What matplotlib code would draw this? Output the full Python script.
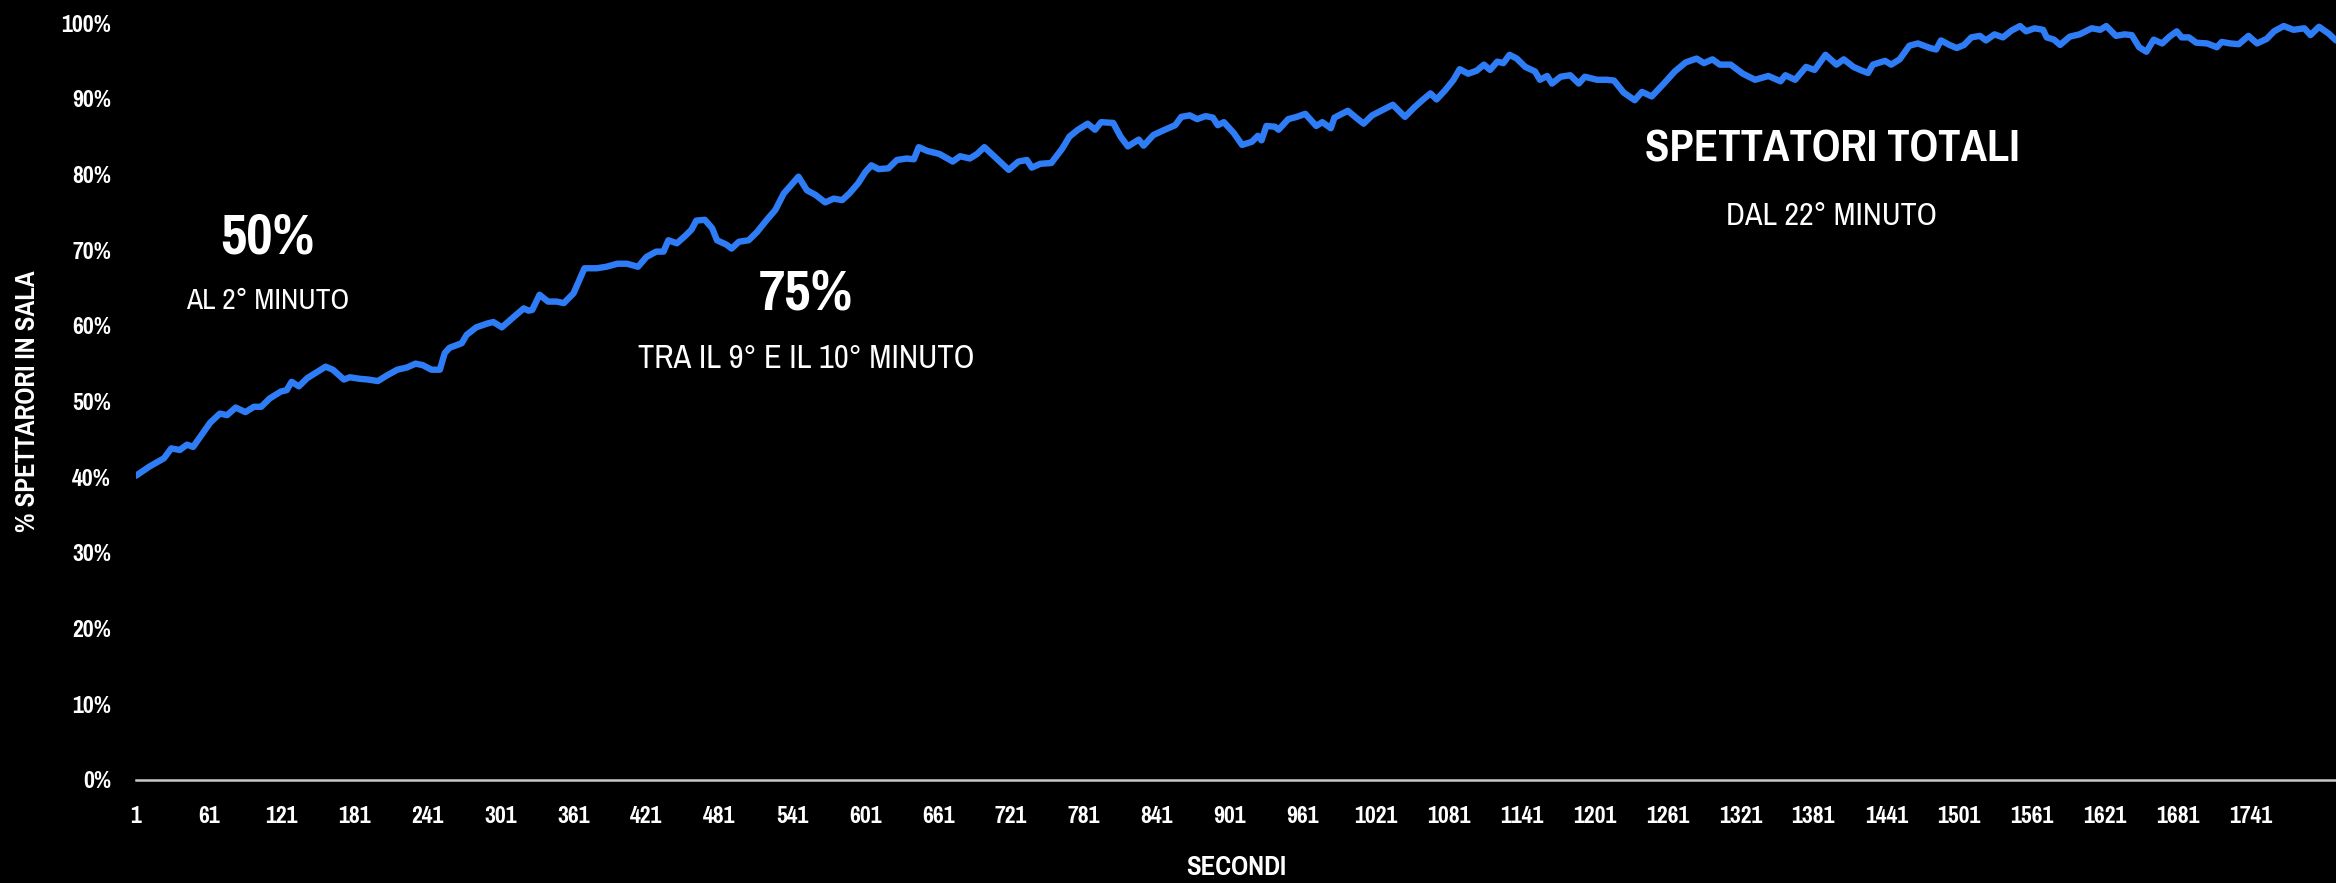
import matplotlib
matplotlib.use('Agg')
import matplotlib.pyplot as plt
from matplotlib import font_manager
from matplotlib.ticker import FuncFormatter

# font stretto, se c'e'
narrow = None
for f in font_manager.fontManager.ttflist:
    if 'Narrow' in f.name or 'Condensed' in f.name or f.stretch in ('condensed', 'semi-condensed',
                                                                      'extra-condensed'):
        if narrow is None or 'Narrow' in f.name:
            narrow = f
if narrow is not None:
    plt.rcParams['font.family'] = [narrow.name, 'DejaVu Sans']
    plt.rcParams['font.stretch'] = narrow.stretch
    scala = 1.0
else:
    plt.rcParams['font.family'] = ['DejaVu Sans']
    scala = 0.8

secondi = [1, 12, 24, 30, 37, 43, 48, 55, 62, 70, 76, 83, 91, 98, 104, 111, 120, 125, 129, 135,
           142, 150, 157, 163, 172, 177, 185, 192, 200, 207, 216, 224, 231, 237, 244, 251, 255, 259,
           269, 273, 281, 290, 295, 302, 312, 320, 324,
           327, 333, 340, 347, 353, 361, 370, 380, 388, 397, 405, 414, 421, 429, 435, 439, 446, 453,
           458, 462, 469, 475, 479, 487, 491, 497, 505, 512, 520, 527, 534, 539, 546, 553, 560, 568,
           575, 582, 588, 595, 601, 606, 612, 620, 627, 635, 641, 645, 652,
           662, 673, 679, 687, 693, 699, 709, 719, 727, 734, 738, 745, 754, 763, 769, 776, 784, 790,
           795, 805, 811, 817, 826, 830, 838, 846, 856, 861, 868, 874, 881, 887, 891, 896, 904, 911,
           919, 924, 927, 931, 938, 941, 949, 956, 963, 972, 977,
           984, 987, 998, 1004, 1011, 1018, 1029, 1035, 1045, 1053, 1060, 1066, 1071, 1078, 1085,
           1090, 1097, 1104, 1110, 1115, 1121, 1126, 1131, 1137, 1144, 1152, 1156, 1162, 1166, 1173,
           1181, 1188, 1193, 1203, 1211, 1217, 1225, 1234, 1240, 1248, 1258, 1267, 1276, 1285, 1291,
           1298, 1304, 1313,
           1323, 1333, 1344, 1354, 1358, 1366, 1375, 1382, 1391, 1400, 1406, 1414, 1421, 1426, 1430,
           1440, 1445, 1452, 1460, 1467, 1477, 1482, 1486, 1493, 1499, 1505, 1511, 1518, 1523, 1530,
           1537, 1544, 1551, 1556, 1563, 1570, 1573, 1579, 1584, 1592, 1600, 1610, 1617, 1622, 1630,
           1637,
           1643, 1649, 1655, 1661, 1668, 1674, 1680, 1684, 1690, 1696, 1705, 1713, 1717, 1724, 1731,
           1739, 1746, 1754, 1760, 1768, 1776, 1785, 1790, 1797, 1805, 1811]

spettatori = [40.2, 41.4, 42.5, 43.8, 43.6, 44.3, 44.0, 45.6, 47.2, 48.4, 48.2, 49.2, 48.6, 49.3,
              49.3, 50.4, 51.3, 51.5, 52.6, 52.0,
              53.1, 53.9, 54.6, 54.2, 52.9, 53.2, 53.0, 52.9, 52.7, 53.4, 54.2, 54.5, 55.0, 54.8,
              54.2, 54.2, 56.4, 57.1,
              57.7, 58.8, 59.8, 60.3, 60.5, 59.8, 61.2, 62.3, 62.0,
              62.1, 64.1, 63.2, 63.2, 63.0, 64.3, 67.6, 67.6, 67.8, 68.2, 68.2, 67.8, 69.1, 69.8,
              69.8, 71.3, 70.9, 71.9,
              72.7, 73.9, 74.0, 72.9, 71.3, 70.7, 70.2, 71.1, 71.3, 72.4, 74.0, 75.3, 77.5, 78.4,
              79.7, 77.9, 77.3, 76.3,
              76.8, 76.6, 77.5, 78.8, 80.3, 81.2, 80.7, 80.8, 81.9, 82.1, 82.0, 83.6, 83.1,
              82.7, 81.7, 82.4, 82.1, 82.7, 83.6, 82.1, 80.6, 81.7, 81.9, 80.9, 81.4, 81.5, 83.4,
              85.0, 85.9, 86.7, 85.9,
              86.9, 86.8, 85.0, 83.7, 84.6, 83.8, 85.2, 85.8, 86.5, 87.6, 87.8, 87.3, 87.7, 87.5,
              86.5, 86.9, 85.5, 83.9,
              84.3, 85.1, 84.5, 86.4, 86.3, 85.9, 87.3, 87.6, 88.0, 86.4, 86.9,
              86.1, 87.5, 88.4, 87.6, 86.7, 87.8, 88.7, 89.2, 87.6, 88.9, 89.9, 90.7, 89.9, 91.1,
              92.5,
              93.9, 93.3, 93.7, 94.5, 93.8, 94.9, 94.7, 95.8, 95.3, 94.2, 93.6, 92.5, 93.0, 92.0,
              92.9,
              93.1, 92.0, 92.9, 92.5, 92.5, 92.4, 90.8, 89.8, 90.9, 90.3, 92.0, 93.6, 94.8, 95.3,
              94.7,
              95.2, 94.5, 94.5,
              93.3, 92.5, 93.0, 92.3, 93.1, 92.5, 94.2, 93.8, 95.8, 94.5, 95.2, 94.2, 93.7, 93.4,
              94.5,
              95.0, 94.5, 95.2, 97.0, 97.3, 96.7, 96.5, 97.7, 97.1, 96.7, 97.1, 98.1, 98.3, 97.7,
              98.5,
              98.1, 99.0, 99.6, 98.9, 99.3, 99.1, 98.1, 97.8, 97.1, 98.2, 98.5, 99.3, 99.1, 99.6,
              98.3,
              98.5,
              98.4, 96.8, 96.2, 97.8, 97.3, 98.2, 98.9, 98.1, 98.1, 97.4, 97.3, 96.8, 97.5, 97.3,
              97.2,
              98.3, 97.3, 97.9, 98.9, 99.6, 99.1, 99.3, 98.4, 99.5, 98.6, 97.7]

tick_secondi = list(range(1, 1742, 60))
tick_perc = list(range(0, 101, 10))

# note sul grafico: (x, y grande, y piccolo, testo grande, testo piccolo, size, size)
note = [
    (268, 238, 301, '50%', 'AL 2° MINUTO', 45, 23),
    (806, 293, 359, '75%', 'TRA IL 9° E IL 10° MINUTO', 45, 25.5),
    (1832, 149, 216, 'SPETTATORI TOTALI', 'DAL 22° MINUTO', 35, 25),
]

W, H = 2336, 883
fig = plt.figure(figsize=(W / 100, H / 100), dpi=100, facecolor='black')
ax = fig.add_axes([136 / W, 103 / H, 2200 / W, 757 / H])
ax.set_facecolor('black')

ax.plot(secondi, spettatori, color='#2f7df6', lw=4.6, solid_joinstyle='round',
        solid_capstyle='round')

ax.set_xlim(1, 1811)
ax.set_ylim(0, 100)
ax.set_xticks(tick_secondi)
ax.set_xticklabels([str(t) for t in tick_secondi])
ax.set_yticks(tick_perc)
ax.yaxis.set_major_formatter(FuncFormatter(lambda v, p: '%d%%' % v))
ax.tick_params(axis='both', length=0, colors='white', labelsize=18.5 * scala)
ax.tick_params(axis='x', pad=19)
ax.tick_params(axis='y', pad=18)
for lab in ax.get_xticklabels() + ax.get_yticklabels():
    lab.set_fontweight('bold')

for s in ['top', 'right', 'left']:
    ax.spines[s].set_visible(False)
ax.spines['bottom'].set_color('#c8c8c8')
ax.spines['bottom'].set_linewidth(1.8)

ax.set_ylabel('% SPETTARORI IN SALA', color='white', fontsize=21 * scala, fontweight='bold')
ax.yaxis.set_label_coords(-0.0495, 0.5)
ax.set_xlabel('SECONDI', color='white', fontsize=21 * scala, fontweight='bold')
ax.xaxis.set_label_coords(0.5, -0.115)
ax.xaxis.label.set_va('center')
ax.yaxis.label.set_va('center')

# le annotazioni sono in pixel della figura, dall'alto
for x, y1, y2, big, small, fs1, fs2 in note:
    fig.text(x / W, 1 - y1 / H, big, color='white', fontsize=fs1 * scala, fontweight='bold',
             ha='center', va='center')
    fig.text(x / W, 1 - y2 / H, small, color='white', fontsize=fs2 * scala,
             ha='center', va='center')

fig.savefig('out.png', dpi=100, facecolor='black')
